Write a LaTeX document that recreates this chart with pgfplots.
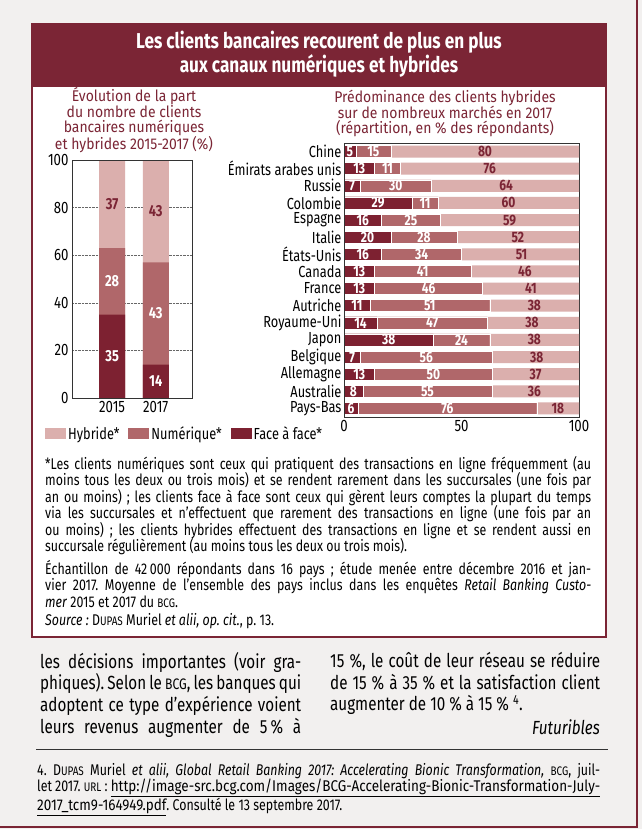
\documentclass[border=0pt]{standalone}
\usepackage{fontspec}
\setmainfont{Fira Sans}[FakeStretch=0.8]
\newfontfamily\titlefont{Fira Sans}[FakeStretch=0.9]
\newfontfamily\urlfont{Fira Sans}[FakeStretch=0.87]
\usepackage{pgfplots}
\pgfplotsset{compat=1.18}
\usepackage{pgfplotstable}
\definecolor{maroon}{HTML}{7B2535}
\definecolor{cdark}{HTML}{7D2131}
\definecolor{cmid}{HTML}{B0676A}
\definecolor{clight}{HTML}{DBAFAD}
\definecolor{pagebg}{HTML}{F2F0EF}
\newcommand\smc[1]{\scalebox{0.8}{#1}}
\frenchspacing
\pgfplotstableread{
x f n h
0 35 28 37
1 14 43 43
}\evol
\pgfplotstableread{
i f n h
0 5 15 80
1 13 11 76
2 7 30 64
3 29 11 60
4 16 25 59
5 20 28 52
6 16 34 51
7 13 41 46
8 13 46 41
9 11 51 38
10 14 47 38
11 38 24 38
12 7 56 38
13 13 50 37
14 8 55 36
15 6 76 18
}\pays
\begin{document}
\begin{tikzpicture}[x=1pt,y=1pt]
\useasboundingbox (0,0) rectangle (642,-829);
\fill[pagebg] (0,0) rectangle (642,-829);
\draw[maroon, line width=1.5pt] (637,0) -- (637,-827) -- (0,-827);
\draw[maroon, line width=2pt, fill=white] (32,-24) rectangle (606,-637);
\fill[maroon] (32,-24) rectangle (606,-87);
\node[white, font=\fontsize{21.5}{22}\selectfont\bfseries, align=center] at (319,-54) {Les clients bancaires recourent de plus en plus\\aux canaux numériques et hybrides};
\node[maroon, font=\titlefont\fontsize{15.5}{14.2}\selectfont, align=center] at (134,-120) {Évolution de la part\\du nombre de clients\\bancaires numériques\\et hybrides 2015-2017 (\%)};
\node[maroon, font=\titlefont\fontsize{15.5}{14.2}\selectfont, align=center] at (445,-113) {Prédominance des clients hybrides\\sur de nombreux marchés en 2017\\(répartition, en \% des répondants)};

\begin{axis}[at={(72pt,-398pt)}, anchor=south west, scale only axis, width=120pt, height=238pt,
  xmin=-0.92, xmax=1.83, ymin=0, ymax=100,
  xtick={0,1}, xticklabels={2015,2017}, ytick={0,20,...,100},
  major tick length=0pt, ymajorgrids, grid style={densely dotted, black!60, line width=0.6pt},
  axis line style={black!80, line width=0.7pt},
  tick label style={font=\fontsize{16.5}{16.5}\selectfont},
  /pgf/number format/assume math mode=true,
  legend columns=3,
  legend style={at={(-0.225,-0.151)}, anchor=west, draw=none, fill=none, inner sep=0pt,
    font=\fontsize{16}{16}\selectfont, /tikz/every even column/.append style={column sep=7pt}},
  legend image code/.code={\fill[#1] (0pt,-5pt) rectangle (21pt,6pt);},
  nodes near coords style={font=\fontsize{16}{16}\selectfont\bfseries, anchor=center},
]
\addplot[ybar, bar width=26pt, bar shift=0pt, fill=clight, draw=none] table[x=x, y expr=\thisrow{f}+\thisrow{n}+\thisrow{h}] {\evol};
\addlegendentry{Hybride*}
\addplot[ybar, bar width=26pt, bar shift=0pt, fill=cmid, draw=none] table[x=x, y expr=\thisrow{f}+\thisrow{n}] {\evol};
\addlegendentry{Numérique*}
\addplot[ybar, bar width=26pt, bar shift=0pt, fill=cdark, draw=none] table[x=x, y=f] {\evol};
\addlegendentry{Face à face*}
\addplot[forget plot, draw=none, nodes near coords, point meta=explicit symbolic, every node near coord/.append style={white}] table[x=x, y expr=\thisrow{f}/2, meta=f] {\evol};
\addplot[forget plot, draw=none, nodes near coords, point meta=explicit symbolic, every node near coord/.append style={white}] table[x=x, y expr=\thisrow{f}+\thisrow{n}/2, meta=n] {\evol};
\addplot[forget plot, draw=none, nodes near coords, point meta=explicit symbolic, every node near coord/.append style={maroon}] table[x=x, y expr=\thisrow{f}+\thisrow{n}+\thisrow{h}/2, meta=h] {\evol};
\draw[black!80, line width=0.7pt] (rel axis cs:0,0) rectangle (rel axis cs:1,1);
\end{axis}

\begin{axis}[at={(344pt,-417pt)}, anchor=south west, scale only axis, width=235pt, height=274pt,
  xmin=0, xmax=100, ymin=-0.5, ymax=15.5, y dir=reverse,
  ytick={0,...,15},
  yticklabels={Chine,Émirats arabes unis,Russie,Colombie,Espagne,Italie,États-Unis,Canada,France,Autriche,Royaume-Uni,Japon,Belgique,Allemagne,Australie,Pays-Bas},
  xtick={0,50,100},
  major tick length=0pt,
  axis line style={black!80, line width=0.7pt},
  tick label style={font=\fontsize{16.5}{16.5}\selectfont},
  yticklabel style={font=\fontsize{16}{16}\selectfont, xshift=1pt},
  /pgf/number format/assume math mode=true,
  nodes near coords style={font=\fontsize{15}{15}\selectfont\bfseries, anchor=center},
]
\addplot[xbar, bar width=12pt, bar shift=0pt, fill=clight, draw=none] table[y=i, x expr={max(\thisrow{f}+\thisrow{n}+\thisrow{h},100)}] {\pays};
\addplot[xbar, bar width=12pt, bar shift=0pt, fill=cmid, draw=white, line width=0.4pt] table[y=i, x expr=\thisrow{f}+\thisrow{n}] {\pays};
\addplot[xbar, bar width=12pt, bar shift=0pt, fill=cdark, draw=white, line width=0.4pt] table[y=i, x=f] {\pays};
\addplot[draw=none, nodes near coords, point meta=explicit symbolic, every node near coord/.append style={white}] table[y=i, x expr=\thisrow{f}/2, meta=f] {\pays};
\addplot[draw=none, nodes near coords, point meta=explicit symbolic, every node near coord/.append style={white}] table[y=i, x expr=\thisrow{f}+\thisrow{n}/2, meta=n] {\pays};
\addplot[draw=none, nodes near coords, point meta=explicit symbolic, every node near coord/.append style={maroon}] table[y=i, x expr=\thisrow{f}+\thisrow{n}+\thisrow{h}/2, meta=h] {\pays};
\draw[black!80, line width=0.7pt] (rel axis cs:0,0) rectangle (rel axis cs:1,1);
\end{axis}

\node[anchor=north west, inner sep=0pt, text width=546pt, align=justify, font=\fontsize{15.5}{16.5}\selectfont] at (45,-456) {*Les clients numériques sont ceux qui pratiquent des transactions en ligne fréquemment (au\linebreak moins tous les deux ou trois mois) et se rendent rarement dans les succursales (une fois par\linebreak an ou moins)~; les clients face à face sont ceux qui gèrent leurs comptes la plupart du temps\linebreak via les succursales et n’effectuent que rarement des transactions en ligne (une fois par an\linebreak ou moins)~; les clients hybrides effectuent des transactions en ligne et se rendent aussi en\linebreak succursale régulièrement (au moins tous les deux ou trois mois).};
\node[anchor=north west, inner sep=0pt, text width=546pt, align=justify, font=\fontsize{15.5}{16.5}\selectfont] at (45,-560) {Échantillon de 42\,000 répondants dans 16 pays~; étude menée entre décembre 2016 et jan-\linebreak vier 2017. Moyenne de l’ensemble des pays inclus dans les enquêtes \textit{Retail Banking Custo-}\linebreak \textit{mer} 2015 et 2017 du \smc{BCG}.};
\node[anchor=north west, inner sep=0pt, font=\fontsize{15.5}{16.5}\selectfont] at (45,-613) {\textit{Source~:} D\smc{UPAS} Muriel \textit{et alii, op.~cit.}, p.~13.};

\node[anchor=north west, inner sep=0pt, text width=261pt, align=justify, font=\fontsize{19}{21.7}\selectfont] at (40,-652) {les décisions importantes (voir gra-\linebreak phiques). Selon le \smc{BCG}, les banques qui\linebreak adoptent ce type d’expérience voient\linebreak leurs revenus augmenter de 5\,\% à\linebreak};
\node[anchor=north west, inner sep=0pt, text width=270pt, align=justify, font=\fontsize{19}{21.7}\selectfont] at (330,-652) {15~\%, le coût de leur réseau se réduire\linebreak de 15~\% à 35~\% et la satisfaction client\linebreak augmenter de 10~\% à 15~\%~\textsuperscript{4}.};
\node[anchor=base east, inner sep=0pt, font=\fontsize{19}{21.7}\selectfont\itshape] at (600,-734) {Futuribles};

\draw[black!80, line width=0.7pt] (36,-749) -- (608,-749);
\node[anchor=north west, inner sep=0pt, text width=563pt, align=justify, font=\fontsize{15.5}{16}\selectfont] at (37,-763) {4.~D\smc{UPAS} Muriel \textit{et alii, Global Retail Banking 2017: Accelerating Bionic Transformation,} \smc{BCG}, juil-\linebreak let 2017. \smc{URL}~: \underline{\urlfont http://image-src.bcg.com/Images/BCG-Accelerating-Bionic-Transformation-July-}\linebreak \underline{\urlfont 2017\_tcm9-164949.pdf}. Consulté le 13 septembre 2017.};
\end{tikzpicture}
\end{document}
